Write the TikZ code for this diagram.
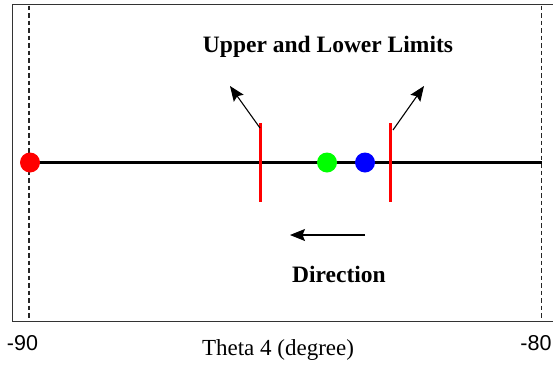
\documentclass[tikz,border=0pt]{standalone}
\usepackage{fontspec}
\setmainfont{Liberation Serif}
\newfontfamily\labsans{Liberation Sans}
\usetikzlibrary{arrows.meta}
\begin{document}
\begin{tikzpicture}[x=1pt,y=-1pt,
  frame/.style={draw=black!80,line width=1.6pt},
  guide/.style={draw=black!85,line width=1.5pt,dash pattern=on 4.5pt off 3pt},
  axisline/.style={draw=black,line width=3pt},
  limitline/.style={draw=red,line width=3pt},
  dot/.style={circle,inner sep=0pt,minimum size=20pt,fill=#1},
  ptr/.style={draw=black,line width=1.1pt,-{Stealth[length=15pt,width=12pt,inset=2.5pt]}},
  bold/.style={font=\fontsize{23.5}{25}\selectfont\bfseries,inner sep=0pt},
  plain/.style={font=\fontsize{23}{25}\selectfont,inner sep=0pt},
  tick/.style={font=\labsans\fontsize{21.5}{24}\selectfont,inner sep=0pt}]
\useasboundingbox (0,0) rectangle (553,367);
\fill[white] (0,0) rectangle (553,367);
% frame (right side lies outside the picture)
\draw[frame] (556,4.5) -- (12.5,4.5) -- (12.5,321.5) -- (556,321.5);
% guides
\coordinate (gLt) at (29,5.5);
\coordinate (gLb) at (29,320.5);
\coordinate (gRt) at (541.5,5.5);
\coordinate (gRb) at (541.5,320.5);
\draw[guide] (gLt) -- (gLb);
\draw[guide] (gRt) -- (gRb);
% axis
\coordinate (aL) at (30,162.5);
\coordinate (aR) at (541.5,162.5);
\draw[axisline] (aL) -- (aR);
% limits
\coordinate (l1t) at (260,123);
\coordinate (l1b) at (260,202);
\coordinate (l2t) at (390.5,123);
\coordinate (l2b) at (390.5,202);
\draw[limitline] (l1t) -- (l1b);
\draw[limitline] (l2t) -- (l2b);
% dots
\node[dot=red] (red) at (30,162.5) {};
\node[dot=green] (green) at (327,162.5) {};
\node[dot=blue] (blue) at (365,162.5) {};
% arrows
\coordinate (a1s) at (260,128);
\coordinate (a1e) at (230,86);
\coordinate (a2s) at (393,130);
\coordinate (a2e) at (424,86);
\draw[ptr] (a1s) -- (a1e);
\draw[ptr] (a2s) -- (a2e);
\coordinate (ds) at (365,235);
\coordinate (de) at (290,235);
\draw[ptr] (ds) -- (de);
% texts
\node[bold] (lim) at (328,47) {Upper and Lower Limits};
\node[bold] (dir) at (339,274) {Direction};
\node[plain] (xl) at (278,350) {Theta 4 (degree)};
\node[tick] (t90) at (22.5,343) {-90};
\node[tick] (t80) at (536,343) {-80};
\end{tikzpicture}
\end{document}
